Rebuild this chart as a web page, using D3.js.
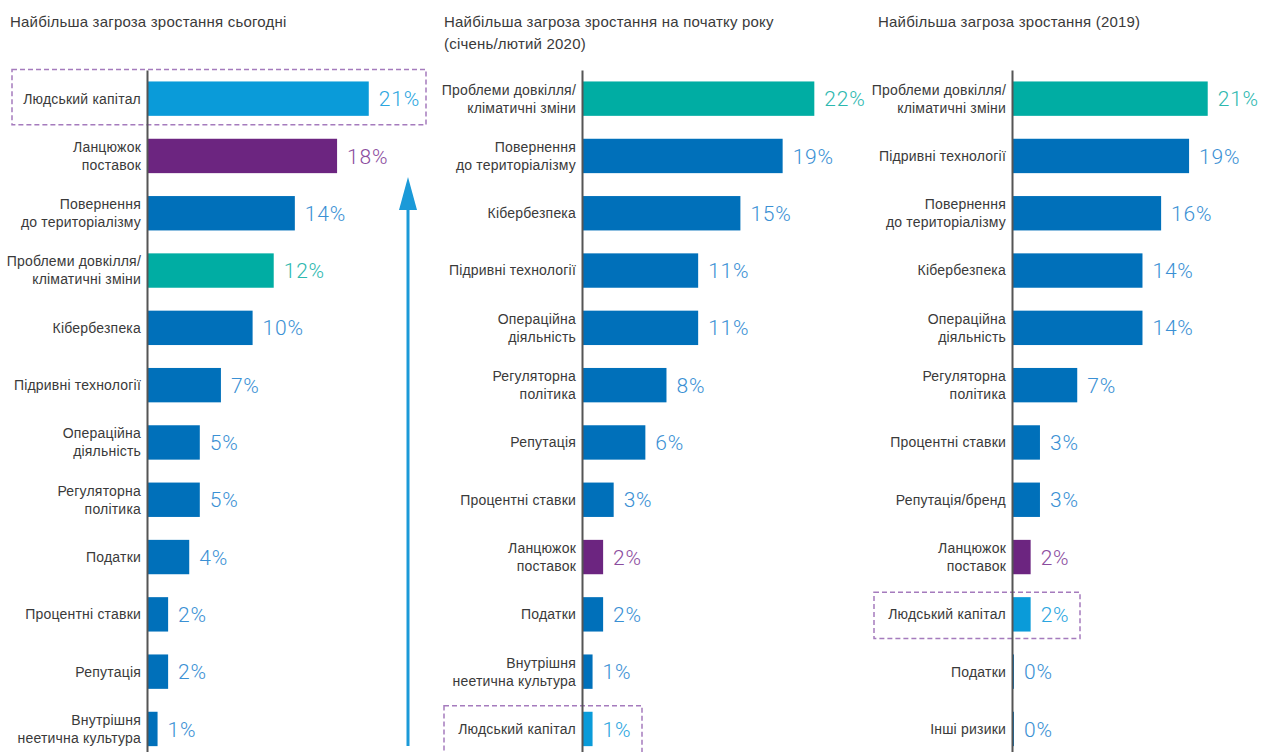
<!DOCTYPE html>
<html>
<head>
<meta charset="utf-8">
<script src="https://cdn.jsdelivr.net/npm/d3@7"></script>
<style>
  body { margin: 0; background: #fff; }
  svg { display: block; }
  .title { font-family: "Liberation Sans", Arial, sans-serif; font-size: 15px; letter-spacing: 0.2px; fill: #3a3a3a; }
  .cat { font-family: "Liberation Sans", Arial, sans-serif; font-size: 14px; letter-spacing: 0.2px; fill: #3a3a3a; }
  .val { font-family: Roboto, "Liberation Sans", sans-serif; font-weight: 300; font-size: 21px; letter-spacing: 0.8px; }
</style>
</head>
<body>
<svg id="chart"></svg>
<script>
// today
const cats1 = ['Людський капітал', 'Ланцюжок\nпоставок', 'Повернення\nдо територіалізму',
  'Проблеми довкілля/\nкліматичні зміни', 'Кібербезпека', 'Підривні технології',
  'Операційна\nдіяльність', 'Регуляторна\nполітика', 'Податки', 'Процентні ставки',
  'Репутація', 'Внутрішня\nнеетична культура'];
const vals1 = [21, 18, 14, 12, 10, 7, 5, 5, 4, 2, 2, 1];

// start of year (Jan/Feb 2020)
const cats2 = ['Проблеми довкілля/\nкліматичні зміни', 'Повернення\nдо територіалізму', 'Кібербезпека',
  'Підривні технології', 'Операційна\nдіяльність', 'Регуляторна\nполітика', 'Репутація',
  'Процентні ставки', 'Ланцюжок\nпоставок', 'Податки', 'Внутрішня\nнеетична культура',
  'Людський капітал'];
const vals2 = [22, 19, 15, 11, 11, 8, 6, 3, 2, 2, 1, 1];

// 2019
const cats3 = ['Проблеми довкілля/\nкліматичні зміни', 'Підривні технології', 'Повернення\nдо територіалізму',
  'Кібербезпека', 'Операційна\nдіяльність', 'Регуляторна\nполітика', 'Процентні ставки',
  'Репутація/бренд', 'Ланцюжок\nпоставок', 'Людський капітал', 'Податки', 'Інші ризики'];
const vals3 = [21, 19, 16, 14, 14, 7, 3, 3, 2, 2, 0, 0];

const titles = [
  ['Найбільша загроза зростання сьогодні'],
  ['Найбільша загроза зростання на початку року', '(січень/лютий 2020)'],
  ['Найбільша загроза зростання (2019)']
];

// styling
const barColor = {
  'Людський капітал': '#0a9bd9',
  'Ланцюжок\nпоставок': '#6c2580',
  'Проблеми довкілля/\nкліматичні зміни': '#00ada3'
};
const valColor = {
  'Людський капітал': '#2ba6e0',
  'Ланцюжок\nпоставок': '#8b4c9e',
  'Проблеми довкілля/\nкліматичні зміни': '#2db8af'
};
const defaultBar = '#0070ba';
const defaultVal = '#3a90d4';

const W = 1269, H = 752;
const svg = d3.select('#chart').attr('width', W).attr('height', H);

const panels = [
  {cats: cats1, vals: vals1, title: titles[0], axisX: 147, titleX: 10, pxMax: 264,
   box: {cat: 'Людський капітал', left: 135, right: 279, top: 12, bottom: 9}},
  {cats: cats2, vals: vals2, title: titles[1], axisX: 582, titleX: 444, pxMax: 264,
   box: {cat: 'Людський капітал', left: 138, right: 60, top: 6, bottom: 8}},
  {cats: cats3, vals: vals3, title: titles[2], axisX: 1012, titleX: 878, pxMax: 233,
   box: {cat: 'Людський капітал', left: 138, right: 68, top: 5, bottom: 7}}
];

panels.forEach(p => {
  const g = svg.append('g').attr('transform', `translate(${p.axisX},0)`);

  const y = d3.scaleBand()
    .domain(p.cats)
    .range([70, 757.6])
    .paddingInner(0.4)
    .paddingOuter(0.2);
  const x = d3.scaleLinear().domain([0, 25]).range([0, p.pxMax]);

  // titles
  svg.append('text').attr('class', 'title')
    .attr('x', p.titleX).attr('y', 27)
    .selectAll('tspan').data(p.title).join('tspan')
    .attr('x', p.titleX).attr('dy', (d, i) => i ? 22 : 0)
    .text(d => d);

  // highlight box
  const by = y(p.box.cat);
  g.append('rect')
    .attr('x', -p.box.left).attr('y', by - p.box.top)
    .attr('width', p.box.left + p.box.right)
    .attr('height', y.bandwidth() + p.box.top + p.box.bottom)
    .attr('fill', 'none').attr('stroke', '#a57bbd')
    .attr('stroke-width', 1.5).attr('stroke-dasharray', '5,3');

  // bars
  g.selectAll('rect.bar').data(p.cats).join('rect')
    .attr('class', 'bar')
    .attr('x', 0)
    .attr('y', d => y(d))
    .attr('width', (d, i) => Math.max(x(p.vals[i]), 2))
    .attr('height', y.bandwidth())
    .attr('fill', d => barColor[d] || defaultBar);

  // value labels
  g.selectAll('text.val').data(p.cats).join('text')
    .attr('class', 'val')
    .attr('x', (d, i) => Math.max(x(p.vals[i]), 2) + 10)
    .attr('y', d => y(d) + y.bandwidth() / 2)
    .attr('dy', '0.36em')
    .attr('fill', d => valColor[d] || defaultVal)
    .text((d, i) => p.vals[i] + '%');

  // category labels
  g.selectAll('text.cat').data(p.cats).join('text')
    .attr('class', 'cat')
    .attr('text-anchor', 'end')
    .attr('y', d => y(d) + y.bandwidth() / 2)
    .each(function(d) {
      const lines = d.split('\n');
      d3.select(this).selectAll('tspan').data(lines).join('tspan')
        .attr('x', -6)
        .attr('y', (l, i) => y(d) + y.bandwidth() / 2 + (i - (lines.length - 1) / 2) * 18)
        .attr('dy', '0.35em')
        .text(l => l);
    });

  // axis line
  const axis = d3.axisLeft(y).tickSize(0).tickFormat('');
  g.append('g').call(axis)
    .call(a => a.select('.domain').attr('stroke', '#555').attr('stroke-width', 2));
});

// upward arrow in first panel
const arrowX = 408;
svg.append('line')
  .attr('x1', arrowX).attr('x2', arrowX)
  .attr('y1', 746).attr('y2', 200)
  .attr('stroke', '#1b9ad8').attr('stroke-width', 3);
svg.append('path')
  .attr('d', d3.line()([[arrowX, 177], [arrowX - 9, 210], [arrowX + 9, 210]]))
  .attr('fill', '#1b9ad8');
</script>
</body>
</html>
